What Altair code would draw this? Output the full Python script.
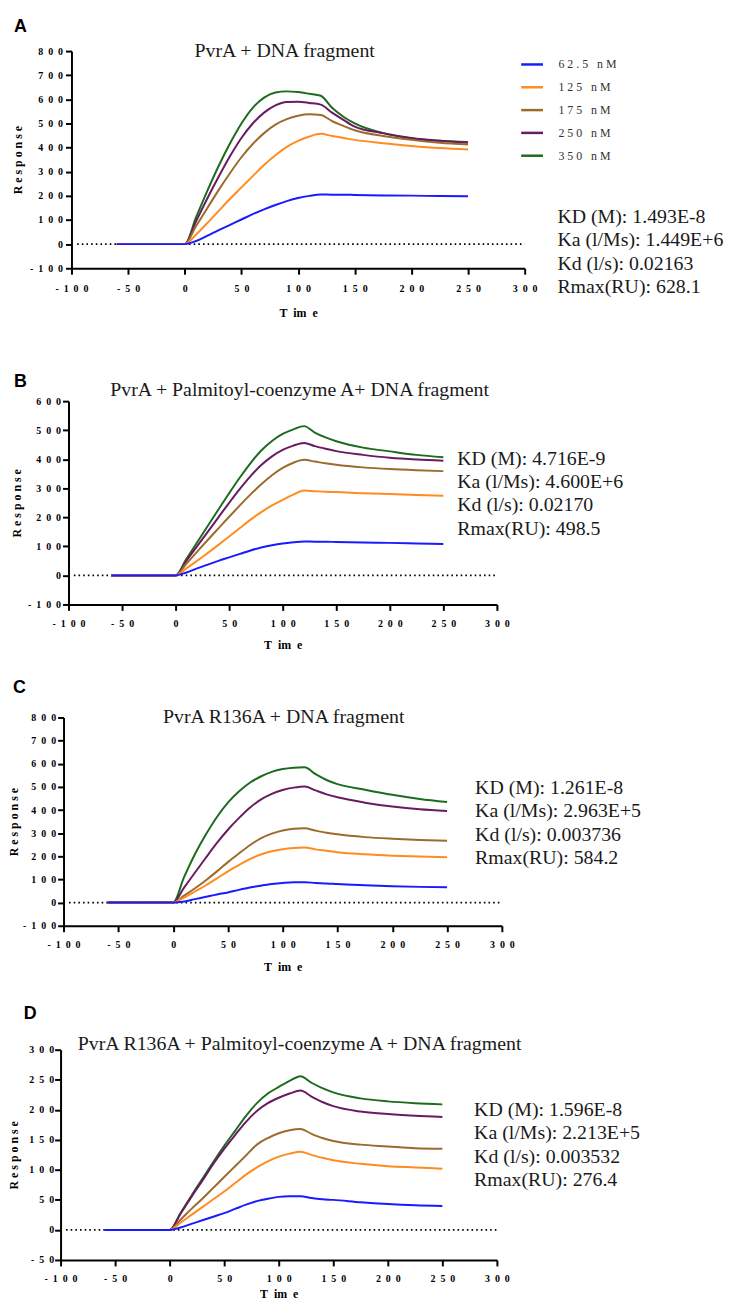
import altair as alt
import pandas as pd

# ---------------- data ----------------
TIME = [-60, 0, 10, 20, 30, 40, 50, 60, 70, 80, 90, 100, 110, 120,
        130, 140, 150, 175, 200, 225, 250]
CONC = ["62.5 nM", "125 nM", "175 nM", "250 nM", "350 nM"]
COLORS = ["#1a1aff", "#ff8c1f", "#9c6a2c", "#6a1a60", "#1d6b1d"]

# Panel A: PvrA + DNA fragment
A_62 = [0, 0, 13, 35, 58, 80, 102, 124, 144, 162, 178, 191, 200, 206, 205, 205, 204, 202, 201, 199, 198]
A_125 = [0, 0, 40, 88, 138, 188, 235, 282, 328, 368, 403, 428, 446, 457, 448, 440, 432, 418, 407, 398, 392]
A_175 = [0, 0, 75, 150, 225, 295, 360, 415, 460, 495, 518, 532, 538, 535, 510, 490, 472, 448, 432, 420, 413]
A_250 = [0, 0, 95, 190, 280, 365, 440, 500, 545, 575, 589, 590, 585, 578, 545, 515, 487, 460, 440, 428, 420]
A_350 = [0, 0, 112, 222, 325, 418, 500, 565, 607, 628, 633, 630, 623, 615, 565, 528, 500, 460, 438, 428, 423]

# Panel B: PvrA + Palmitoyl-coenzyme A + DNA fragment
B_62 = [0, 0, 10, 24, 37, 50, 62, 74, 86, 96, 104, 110, 114, 117, 116, 116, 115, 113, 112, 110, 108]
B_125 = [0, 0, 24, 50, 77, 105, 134, 163, 192, 218, 241, 260, 278, 292, 290, 288, 287, 283, 280, 277, 274]
B_175 = [0, 0, 40, 81, 122, 162, 202, 241, 279, 314, 345, 370, 388, 398, 392, 386, 381, 372, 366, 362, 359]
B_250 = [0, 0, 50, 100, 150, 200, 250, 298, 342, 380, 410, 432, 447, 456, 445, 436, 428, 415, 405, 399, 395]
B_350 = [0, 0, 56, 113, 170, 227, 283, 337, 387, 430, 463, 487, 503, 514, 492, 475, 462, 440, 427, 415, 407]

# Panel C: PvrA R136A + DNA fragment
C_62 = [0, 0, 5, 15, 25, 35, 44, 55, 65, 73, 80, 85, 88, 88, 85, 83, 80, 75, 71, 68, 66]
C_125 = [0, 0, 22, 48, 75, 105, 135, 162, 188, 208, 222, 231, 236, 238, 230, 224, 218, 209, 203, 199, 196]
C_175 = [0, 0, 30, 62, 97, 135, 175, 212, 248, 278, 298, 312, 319, 321, 311, 302, 295, 283, 276, 271, 267]
C_250 = [0, 0, 65, 130, 195, 258, 315, 365, 410, 445, 470, 487, 497, 502, 485, 468, 455, 432, 415, 403, 396]
C_350 = [0, 0, 110, 210, 295, 370, 432, 480, 518, 545, 565, 577, 583, 585, 555, 530, 512, 488, 466, 448, 435]

# Panel D: PvrA R136A + Palmitoyl-coenzyme A + DNA fragment
D_62 = [0, 0, 4, 10, 16, 22, 28, 35, 42, 48, 52, 55, 56, 56, 53, 51, 50, 46, 43, 41, 40]
D_125 = [0, 0, 12, 25, 38, 51, 64, 78, 92, 104, 114, 122, 127, 130, 125, 120, 116, 110, 106, 104, 102]
D_175 = [0, 0, 17, 35, 52, 70, 88, 106, 124, 142, 153, 161, 166, 168, 160, 153, 148, 142, 139, 136, 135]
D_250 = [0, 0, 27, 55, 82, 110, 135, 158, 180, 198, 211, 220, 227, 232, 222, 213, 206, 197, 193, 190, 188]
D_350 = [0, 0, 28, 57, 85, 113, 140, 165, 190, 211, 227, 238, 248, 256, 245, 236, 229, 219, 214, 211, 209]

TITLES = [
    "PvrA + DNA fragment",
    "PvrA + Palmitoyl-coenzyme A+ DNA fragment",
    "PvrA R136A + DNA fragment",
    "PvrA R136A + Palmitoyl-coenzyme A + DNA fragment",
]
LETTERS = ["A", "B", "C", "D"]
KINETICS = [
    ["KD (M): 1.493E-8", "Ka (l/Ms): 1.449E+6", "Kd (l/s): 0.02163", "Rmax(RU): 628.1"],
    ["KD (M): 4.716E-9", "Ka (l/Ms): 4.600E+6", "Kd (l/s): 0.02170", "Rmax(RU): 498.5"],
    ["KD (M): 1.261E-8", "Ka (l/Ms): 2.963E+5", "Kd (l/s): 0.003736", "Rmax(RU): 584.2"],
    ["KD (M): 1.596E-8", "Ka (l/Ms): 2.213E+5", "Kd (l/s): 0.003532", "Rmax(RU): 276.4"],
]
X_TICKS = [-100, -50, 0, 50, 100, 150, 200, 250, 300]
Y_DOMAINS = [[-100, 800], [-100, 600], [-100, 800], [-50, 300]]
Y_STEPS = [100, 100, 100, 50]
ZERO_LINE = [-95, 300]

SERIES = [
    [A_62, A_125, A_175, A_250, A_350],
    [B_62, B_125, B_175, B_250, B_350],
    [C_62, C_125, C_175, C_250, C_350],
    [D_62, D_125, D_175, D_250, D_350],
]

# ---------------- layout (pixels inside each panel) ----------------
W = 720
LAYOUT = [
    dict(h=322, xr=[63, 520], yr=[257, 38], ylp=3, xlp=9.5, tX=-47, tY=40,
         title=(278, 44), letter=(5, 19), kd=(553, 211), lh=23.7, legend=True),
    dict(h=325, xr=[60, 492], yr=[274, 69], ylp=2, xlp=8, tX=-45, tY=35,
         title=(293, 64), letter=(5, 55), kd=(452, 133), lh=23.5, legend=False),
    dict(h=330, xr=[55, 497], yr=[273, 63], ylp=2, xlp=8, tX=-43, tY=36.5,
         title=(277, 69), letter=(4, 38), kd=(470, 140), lh=23.6, legend=False),
    dict(h=322, xr=[52, 492], yr=[280, 68], ylp=1, xlp=8, tX=-40, tY=29,
         title=(293, 68), letter=(15, 37), kd=(469, 135), lh=23.4, legend=False),
]

SERIF = "Liberation Serif"
SANS = "Liberation Sans"
SPACED = "join(split('' + datum.value, ''), '\u2002')"
LEGEND_SPACED = "join(split(datum.label, ''), '\u00a0')"


def panel(i):
    L = LAYOUT[i]
    ydom = Y_DOMAINS[i]
    yticks = list(range(ydom[0], ydom[1] + 1, Y_STEPS[i]))
    rows = []
    for conc, vals in zip(CONC, SERIES[i]):
        for t, v in zip(TIME, vals):
            rows.append({"time": t, "response": v, "conc": conc})
    df = pd.DataFrame(rows)
    df["ord"] = df["conc"].map({c: k for k, c in enumerate(CONC)})
    df = df.sort_values(["ord", "time"], ascending=[False, True])

    xscale = alt.Scale(domain=[-100, 300], range=L["xr"], nice=False, zero=False)
    yscale = alt.Scale(domain=ydom, range=L["yr"], nice=False, zero=False)
    xaxis = alt.Axis(
        values=X_TICKS, title="T\u2002im\u2002e", offset=L["yr"][0] - L["h"],
        domainColor="black", domainWidth=2, tickColor="black", tickWidth=2,
        tickSize=6, grid=False, labelFont=SERIF, labelFontWeight="bold",
        labelFontSize=10, labelColor="black", labelPadding=L["xlp"],
        labelExpr=SPACED, labelFlush=False, labelOverlap=False,
        titleFont=SERIF, titleFontWeight="bold", titleFontSize=12,
        titleColor="black", titleY=L["tY"],
    )
    yaxis = alt.Axis(
        values=yticks, title="R e s p o n s e", offset=-L["xr"][0],
        domainColor="black", domainWidth=2, tickColor="black", tickWidth=2,
        tickSize=6, grid=False, labelFont=SERIF, labelFontWeight="bold",
        labelFontSize=10, labelColor="black", labelPadding=L["ylp"],
        labelExpr=SPACED, labelFlush=False, labelOverlap=False,
        titleFont=SERIF, titleFontWeight="bold", titleFontSize=12,
        titleColor="black", titleX=L["tX"],
    )

    if L["legend"]:
        legend = alt.Legend(
            orient="none", legendX=515, legendY=39, title=None,
            symbolType="stroke", symbolSize=484, symbolStrokeWidth=2.5,
            labelFont=SERIF, labelFontSize=12, labelColor="#333",
            labelOffset=14, rowPadding=4, padding=0,
            labelExpr=LEGEND_SPACED,
        )
    else:
        legend = None

    zero = alt.Chart(pd.DataFrame({"x0": [ZERO_LINE[0]], "x1": [ZERO_LINE[1]], "y0": [0]})).mark_rule(
        color="black", strokeWidth=1.6, strokeDash=[1.6, 3.1]
    ).encode(
        x=alt.X("x0:Q", scale=xscale, axis=xaxis),
        x2="x1",
        y=alt.Y("y0:Q", scale=yscale, axis=yaxis),
    )

    lines = alt.Chart(df).mark_line(strokeWidth=2, interpolate="monotone").encode(
        x=alt.X("time:Q", scale=xscale, axis=xaxis),
        y=alt.Y("response:Q", scale=yscale, axis=yaxis),
        color=alt.Color("conc:N", scale=alt.Scale(domain=CONC, range=COLORS), legend=legend),
        detail="conc:N",
        order=alt.Order("ord:Q", sort="descending"),
    )

    one = pd.DataFrame({"k": [0]})
    title = alt.Chart(one).mark_text(
        text=TITLES[i], font=SERIF, fontSize=20, align="center",
        baseline="alphabetic", color="#1a1a1a",
    ).encode(x=alt.value(L["title"][0]), y=alt.value(L["title"][1]))

    letter = alt.Chart(one).mark_text(
        text=LETTERS[i], font=SANS, fontSize=18, fontWeight="bold", align="left",
        baseline="alphabetic", color="black",
    ).encode(x=alt.value(L["letter"][0]), y=alt.value(L["letter"][1]))

    kd = alt.Chart(one).mark_text(
        text=KINETICS[i], font=SERIF, fontSize=20, align="left",
        baseline="alphabetic", color="#1a1a1a", lineHeight=L["lh"],
    ).encode(x=alt.value(L["kd"][0]), y=alt.value(L["kd"][1]))

    return alt.layer(zero, lines, title, letter, kd).properties(width=W, height=L["h"])


chart = alt.vconcat(*[panel(i) for i in range(4)], spacing=0).resolve_scale(
    color="independent", x="independent", y="independent"
).properties(padding=0).configure_view(stroke=None)

chart.save("out.html", embed_options={"renderer": "svg", "actions": False})
